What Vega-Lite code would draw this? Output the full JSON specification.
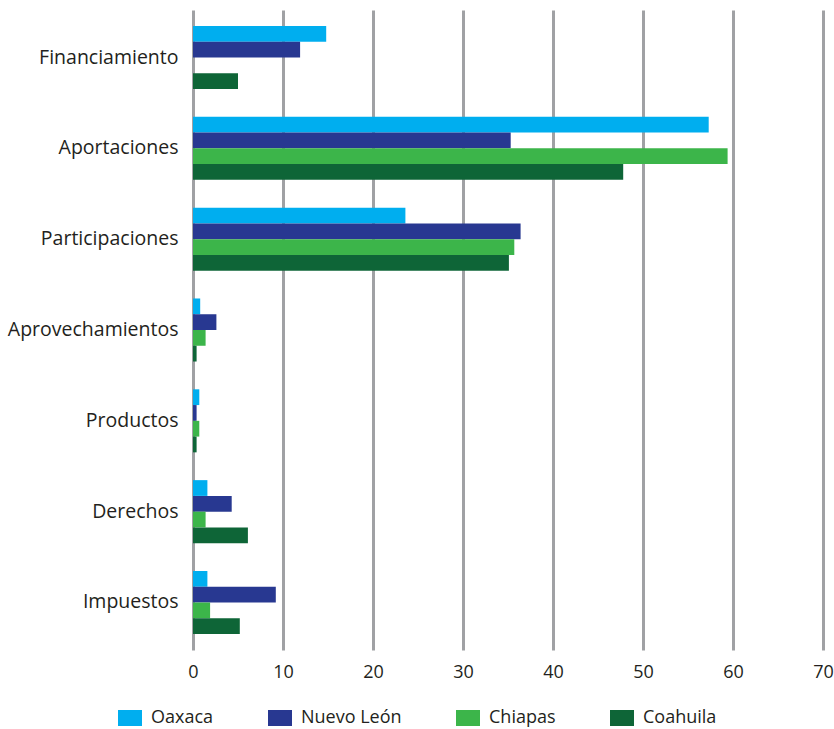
{
  "$schema": "https://vega.github.io/schema/vega-lite/v6.json",
  "width": 630,
  "height": 640,
  "autosize": {"type": "none"},
  "padding": {"left": 193, "top": 10, "right": 11, "bottom": 79},
  "background": "white",
  "config": {
    "font": "Open Sans",
    "view": {"stroke": null},
    "axis": {"labelColor": "#231f20", "labelFont": "Open Sans"},
    "legend": {"labelColor": "#231f20", "labelFont": "Open Sans"}
  },
  "data": {
    "values": [
      {"concepto": "Financiamiento", "estado": "Oaxaca", "valor": 14.8},
      {"concepto": "Financiamiento", "estado": "Nuevo León", "valor": 11.9},
      {"concepto": "Financiamiento", "estado": "Coahuila", "valor": 5.0},
      {"concepto": "Aportaciones", "estado": "Oaxaca", "valor": 57.3},
      {"concepto": "Aportaciones", "estado": "Nuevo León", "valor": 35.3},
      {"concepto": "Aportaciones", "estado": "Chiapas", "valor": 59.4},
      {"concepto": "Aportaciones", "estado": "Coahuila", "valor": 47.8},
      {"concepto": "Participaciones", "estado": "Oaxaca", "valor": 23.6},
      {"concepto": "Participaciones", "estado": "Nuevo León", "valor": 36.4},
      {"concepto": "Participaciones", "estado": "Chiapas", "valor": 35.7},
      {"concepto": "Participaciones", "estado": "Coahuila", "valor": 35.1},
      {"concepto": "Aprovechamientos", "estado": "Oaxaca", "valor": 0.8},
      {"concepto": "Aprovechamientos", "estado": "Nuevo León", "valor": 2.6},
      {"concepto": "Aprovechamientos", "estado": "Chiapas", "valor": 1.4},
      {"concepto": "Aprovechamientos", "estado": "Coahuila", "valor": 0.4},
      {"concepto": "Productos", "estado": "Oaxaca", "valor": 0.7},
      {"concepto": "Productos", "estado": "Nuevo León", "valor": 0.4},
      {"concepto": "Productos", "estado": "Chiapas", "valor": 0.7},
      {"concepto": "Productos", "estado": "Coahuila", "valor": 0.4},
      {"concepto": "Derechos", "estado": "Oaxaca", "valor": 1.6},
      {"concepto": "Derechos", "estado": "Nuevo León", "valor": 4.3},
      {"concepto": "Derechos", "estado": "Chiapas", "valor": 1.4},
      {"concepto": "Derechos", "estado": "Coahuila", "valor": 6.1},
      {"concepto": "Impuestos", "estado": "Oaxaca", "valor": 1.6},
      {"concepto": "Impuestos", "estado": "Nuevo León", "valor": 9.2},
      {"concepto": "Impuestos", "estado": "Chiapas", "valor": 1.9},
      {"concepto": "Impuestos", "estado": "Coahuila", "valor": 5.2}
    ]
  },
  "mark": {"type": "bar", "cornerRadius": 0},
  "encoding": {
    "y": {
      "field": "concepto",
      "type": "nominal",
      "sort": ["Financiamiento", "Aportaciones", "Participaciones", "Aprovechamientos", "Productos", "Derechos", "Impuestos"],
      "scale": {"paddingInner": 0.306, "paddingOuter": 0.176},
      "axis": {
        "title": null,
        "ticks": false,
        "domain": false,
        "labelFontSize": 19.5,
        "labelPadding": 15
      }
    },
    "yOffset": {
      "field": "estado",
      "type": "nominal",
      "scale": {"domain": ["Oaxaca", "Nuevo León", "Chiapas", "Coahuila"], "paddingInner": 0, "paddingOuter": 0}
    },
    "x": {
      "field": "valor",
      "type": "quantitative",
      "scale": {"domain": [0, 70], "nice": false},
      "axis": {
        "title": null,
        "values": [0, 10, 20, 30, 40, 50, 60, 70],
        "ticks": false,
        "domain": false,
        "grid": true,
        "gridColor": "#a0a1a4",
        "gridWidth": 3,
        "gridOpacity": 1,
        "labelFontSize": 18,
        "labelPadding": 13,
        "labelFlush": false
      }
    },
    "color": {
      "field": "estado",
      "type": "nominal",
      "scale": {
        "domain": ["Oaxaca", "Nuevo León", "Chiapas", "Coahuila"],
        "range": ["#00aeef", "#283891", "#3cb54a", "#0e6537"]
      },
      "legend": {
        "title": null,
        "orient": "none",
        "direction": "horizontal",
        "legendX": -75,
        "legendY": 696,
        "padding": 0,
        "symbolType": "M-1,-0.667H1V0.667H-1Z",
        "symbolSize": 576,
        "symbolStrokeWidth": 0,
        "symbolOpacity": 1,
        "labelFontSize": 18,
        "labelOffset": 9,
        "columnPadding": 54
      }
    }
  }
}
